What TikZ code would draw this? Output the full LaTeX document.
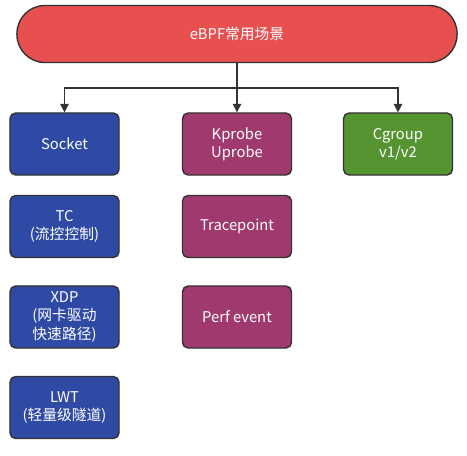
\documentclass[tikz,border=0pt]{standalone}
\usepackage{fontspec}
\setmainfont{Noto Sans CJK SC}
\usepackage{xcolor}
\usetikzlibrary{arrows.meta}

\definecolor{redbox}{HTML}{E85050}
\definecolor{bluebox}{HTML}{2F4AA4}
\definecolor{purplebox}{HTML}{A03A6E}
\definecolor{greenbox}{HTML}{569432}
\definecolor{edge}{HTML}{333333}

\begin{document}
\begin{tikzpicture}
    [x=0.025cm,y=-0.025cm,
     every node/.style={draw=edge,line width=1pt,rounded corners=4pt,text=white,
       align=center,font=\fontsize{10.5}{13}\selectfont,
       minimum width=2.725cm,minimum height=1.55cm,inner sep=1pt},
     blue/.style={fill=bluebox},purple/.style={fill=purplebox},green/.style={fill=greenbox}]
    \useasboundingbox (0,0) rectangle (467,455);
    \node[fill=redbox,rounded corners=0.7cm,minimum width=11cm,minimum height=1.425cm] (top) at (237,34) {eBPF常用场景};

    % colonne reseau
    \node[blue] (socket) at (64.5,144) {Socket};
    \node[blue] (tc) at (64.5,226.5) {TC\\(流控控制)};
    \node[blue] (xdp) at (64.5,317) {XDP\\(网卡驱动\\快速路径)};
    \node[blue] (lwt) at (64.5,407.5) {LWT\\(轻量级隧道)};

    % colonne traces
    \node[purple] (kprobe) at (237,144) {Kprobe\\Uprobe};
    \node[purple] (tracepoint) at (237,226.5) {Tracepoint};
    \node[purple] (perf) at (237,317) {Perf event};

    \node[green] (cgroup) at (398,144) {Cgroup\\v1/v2};

    \coordinate (split) at (237,88);
    \draw[edge,line width=1pt] (top.south) -- (split);
    \foreach \to in {socket, kprobe, cgroup}
    \draw[edge,line width=1pt,-{Triangle[length=6pt,width=6pt]}] (split) -| (\to.north);
\end{tikzpicture}
\end{document}
